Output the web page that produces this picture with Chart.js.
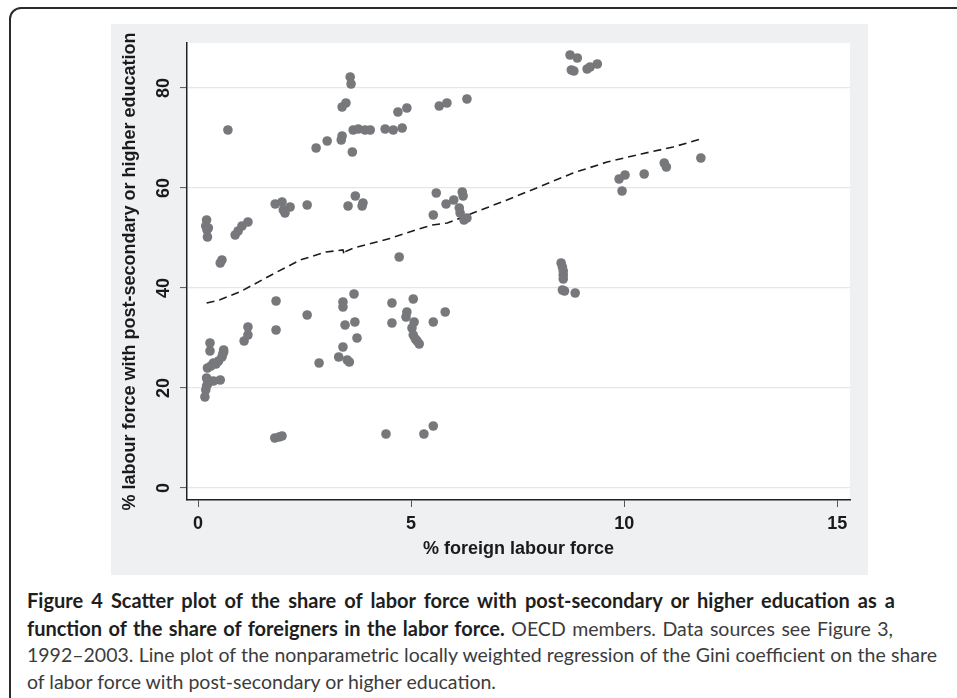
<!DOCTYPE html>
<html lang="en">
<head>
    <meta charset="UTF-8">
    <title>Figure 4 - education vs foreign labour force</title>
    <script src="https://cdn.jsdelivr.net/npm/chart.js"></script>
    <style>
        body {
            margin: 0;
            background: #fff;
            width: 957px;
            height: 698px;
            overflow: hidden;
            position: relative;
            font-family: "Liberation Sans", Arial, sans-serif;
        }
        .frame {
            position: absolute;
            left: 9px;
            top: 7px;
            width: 1000px;
            height: 720px;
            border: 2px solid #2b2b2b;
            border-radius: 12px;
        }
        .panel {
            position: absolute;
            left: 111px;
            top: 24px;
            width: 757px;
            height: 551px;
            background: #eef0f2;
        }
        .caption {
            position: absolute;
            left: 27px;
            top: 587px;
            font-family: "Lato", "Open Sans", sans-serif;
            font-size: 19.5px;
            line-height: 26.7px;
            color: #3c3c3c;
            white-space: nowrap;
        }
        .caption span {
            display: inline-block;
        }
        .caption b {
            font-size: 20px;
            color: #1e1e1e;
        }
    </style>
</head>
<body>
    <div class="frame"></div>
    <div class="panel">
        <canvas id="scatterChart" width="757" height="551"></canvas>
    </div>
    <div class="caption">
        <span data-w="868"><b>Figure 4 Scatter plot of the share of labor force with post-secondary or higher education as a</b></span><br>
        <span data-w="866"><b>function of the share of foreigners in the labor force.</b> OECD members. Data sources see Figure 3,</span><br>
        <span data-w="910">1992–2003. Line plot of the nonparametric locally weighted regression of the Gini coefficient on the share</span><br>
        <span>of labor force with post-secondary or higher education.</span>
    </div>

    <script>
        // % foreign labour force (x) and % labour force with post-secondary education (y)
        const foreignShare = [
            0.16, 0.18, 0.20, 0.22, 0.24, 0.28, 0.28, 0.22, 0.30, 0.36, 0.42, 0.48, 0.52, 0.56, 0.60, 0.58, 0.60, 0.20, 0.36,
            0.20, 0.18, 0.21, 0.22, 0.24, 0.56, 0.52, 0.87, 0.94, 1.03, 1.17, 0.70,
            1.08, 1.17, 1.17, 1.83, 1.83, 2.56, 2.84, 1.80, 1.97, 1.90,
            1.81, 1.97, 2.00, 2.04, 2.16, 2.56,
            3.40, 3.40, 3.66, 3.45, 3.68, 3.73, 3.40, 3.30, 3.50, 3.55,
            3.52, 3.69, 3.87, 3.85,
            2.77, 3.03, 3.36, 3.38, 3.62, 3.38, 3.47, 3.57, 3.59,
            3.64, 3.76, 3.92, 4.04, 4.39, 4.58, 4.79, 4.69, 4.90, 5.66, 5.84, 6.31,
            8.73, 8.90, 8.76, 8.82, 9.13, 9.20, 9.37,
            4.41, 5.30, 5.52,
            4.55, 4.55, 5.05, 4.90, 4.88, 5.07, 5.02, 5.05, 5.10, 5.14, 5.19, 5.52, 5.80,
            4.72, 5.59, 5.82, 6.00, 6.20, 6.22, 6.13, 6.15, 6.24, 6.31, 5.52,
            8.52, 8.55, 8.57, 8.57, 8.57, 8.55, 8.60, 8.85,
            9.88, 10.02, 9.95, 10.47, 10.94, 10.99, 11.80
        ];
        const educationShare = [
            18.2, 19.6, 20.4, 21.6, 21.0, 29.0, 27.4, 24.0, 24.4, 25.0, 24.8, 25.4, 21.6, 26.2, 27.6, 26.8, 27.2, 22.0, 21.4,
            53.6, 52.4, 51.6, 50.2, 52.0, 45.6, 45.0, 50.6, 51.4, 52.4, 53.2, 71.6,
            29.4, 30.6, 32.2, 37.4, 31.6, 34.6, 25.0, 10.0, 10.4, 10.2,
            56.8, 57.2, 55.6, 55.0, 56.2, 56.6,
            37.2, 36.2, 38.8, 32.6, 33.2, 30.0, 28.2, 26.2, 25.6, 25.2,
            56.4, 58.4, 57.0, 56.4,
            68.0, 69.4, 69.6, 70.4, 67.2, 76.2, 77.0, 82.2, 80.8,
            71.6, 71.8, 71.6, 71.6, 71.8, 71.6, 72.0, 75.2, 76.0, 76.4, 77.0, 77.8,
            86.6, 86.0, 83.6, 83.4, 83.8, 84.2, 84.8,
            10.8, 10.8, 12.4,
            37.0, 33.0, 37.8, 35.2, 34.2, 33.2, 32.0, 30.6, 29.8, 29.4, 28.8, 33.2, 35.2,
            46.2, 59.0, 56.8, 57.6, 59.2, 58.4, 56.0, 55.0, 53.6, 54.0, 54.6,
            45.0, 44.2, 43.4, 42.6, 41.8, 39.6, 39.4, 39.0,
            61.8, 62.6, 59.4, 62.8, 65.0, 64.2, 66.0
        ];

        // lowess fit (dashed line)
        const lowessX = [0.2, 0.5, 1.0, 1.5, 1.85, 2.4, 3.0, 3.40, 3.43, 3.46, 3.65, 4.0, 4.5, 5.1, 5.5, 5.85, 6.45, 7.25, 8.0, 8.8, 9.6, 10.4, 11.15, 11.8];
        const lowessY = [37.0, 37.6, 39.3, 41.6, 43.2, 45.6, 47.2, 47.6, 46.6, 47.3, 48.0, 48.8, 49.9, 51.6, 52.6, 53.0, 55.0, 57.6, 60.2, 63.0, 65.2, 66.8, 68.2, 69.8];

        const yTicks = [0, 20, 40, 60, 80];
        const xTicks = [0, 5, 10, 15];

        // stretch the caption lines like the justified text of the figure
        document.querySelectorAll('.caption span[data-w]').forEach(el => {
            const target = parseFloat(el.dataset.w);
            const spaces = (el.textContent.match(/ /g) || []).length;
            const w = el.getBoundingClientRect().width;
            if (spaces > 0) el.style.wordSpacing = ((target - w) / spaces) + 'px';
        });

        const tickFont = { family: "'Liberation Sans', Arial, sans-serif", size: 18, weight: 'bold' };

        const scatterPoints = foreignShare.map((x, i) => ({ x: x, y: educationShare[i] }));
        const lowessPoints = lowessX.map((x, i) => ({ x: x, y: lowessY[i] }));

        // white plot region + vertical y tick labels (Stata style)
        const plotDecor = {
            id: 'plotDecor',
            beforeDraw(chart) {
                const a = chart.chartArea;
                const ctx = chart.ctx;
                ctx.save();
                ctx.fillStyle = '#ffffff';
                ctx.fillRect(a.left, a.top, a.right - a.left, a.bottom - a.top);
                ctx.restore();
            },
            afterDraw(chart) {
                const ctx = chart.ctx;
                const yScale = chart.scales.y;
                ctx.save();
                ctx.fillStyle = '#1a1a1a';
                ctx.font = "bold 18px 'Liberation Sans', Arial, sans-serif";
                ctx.textAlign = 'center';
                ctx.textBaseline = 'middle';
                for (const v of yTicks) {
                    const py = yScale.getPixelForValue(v);
                    ctx.save();
                    ctx.translate(53, py);
                    ctx.rotate(-Math.PI / 2);
                    ctx.fillText(String(v), 0, 0);
                    ctx.restore();
                }
                ctx.restore();
            }
        };

        let ctx = document.getElementById("scatterChart").getContext("2d");
        let chart = new Chart(ctx, {
            type: "scatter",
            data: {
                datasets: [
                    {
                        data: scatterPoints,
                        backgroundColor: "#77787b",
                        borderWidth: 0,
                        pointRadius: 4.8,
                        pointHoverRadius: 4.8
                    },
                    {
                        data: lowessPoints,
                        showLine: true,
                        borderColor: "#1c1c1c",
                        borderWidth: 1.6,
                        borderDash: [8, 5],
                        pointRadius: 0,
                        fill: false,
                        tension: 0
                    }
                ]
            },
            options: {
                responsive: false,
                animation: false,
                devicePixelRatio: 1,
                layout: { padding: { left: 0, right: 18, top: 19, bottom: 0 } },
                plugins: {
                    legend: { display: false },
                    tooltip: { enabled: false }
                },
                scales: {
                    x: {
                        type: "linear",
                        min: -0.26,
                        max: 15.3,
                        afterFit: (s) => { s.height = 75; },
                        afterBuildTicks: (s) => { s.ticks = xTicks.map(v => ({ value: v })); },
                        ticks: { font: tickFont, color: "#1a1a1a", padding: 6, includeBounds: false },
                        grid: { drawOnChartArea: false, drawTicks: true, tickLength: 7, tickColor: "#555", tickWidth: 1 },
                        border: { display: true, color: "#222", width: 1.5 },
                        title: {
                            display: true,
                            text: "% foreign labour force",
                            font: { family: "'Liberation Sans', Arial, sans-serif", size: 18, weight: 'bold' },
                            color: "#1a1a1a",
                            padding: { top: 0, bottom: 15 }
                        }
                    },
                    y: {
                        type: "linear",
                        min: -2.4,
                        max: 89,
                        afterFit: (s) => { s.width = 76; },
                        afterBuildTicks: (s) => { s.ticks = yTicks.map(v => ({ value: v })); },
                        ticks: { display: false },
                        grid: { color: "#e6e6e6", lineWidth: 1.2, drawTicks: true, tickLength: 7, tickColor: "#555", tickWidth: 1 },
                        border: { display: true, color: "#222", width: 1.5 },
                        title: {
                            display: true,
                            text: "% labour force with post-secondary or higher education",
                            font: { family: "'Liberation Sans', Arial, sans-serif", size: 18, weight: 'bold' },
                            color: "#1a1a1a",
                            padding: { top: 8, bottom: 0 }
                        }
                    }
                }
            },
            plugins: [plotDecor]
        });
    </script>
</body>
</html>
